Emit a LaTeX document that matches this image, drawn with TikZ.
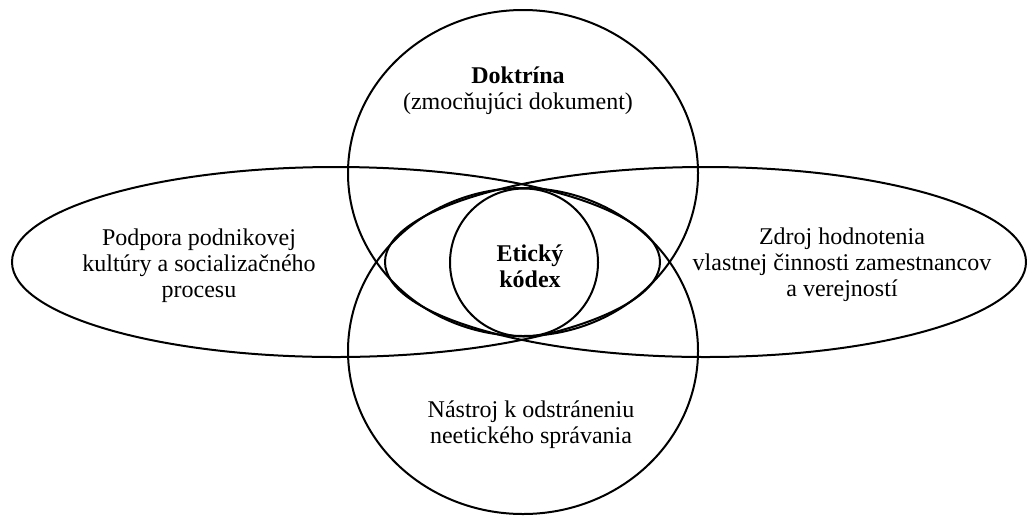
\documentclass[tikz,border=0pt]{standalone}
\usepackage{fontspec}
\setmainfont{Liberation Serif}

\begin{document}
\begin{tikzpicture}[x=0.5pt,y=-0.5pt,line width=1pt,
  areatext/.style={align=center,inner sep=0pt,font=\fontsize{12}{13}\selectfont}]
  \useasboundingbox (0,0) rectangle (1027,515);
  % the two long ellipses
  \draw (336,262) ellipse (324 and 95);
  \draw (705.5,262) ellipse (320.5 and 95);
  % upper and lower round areas
  \draw (523,173) ellipse (175 and 163);
  \draw (523,351) ellipse (175 and 163);
  % the code in the middle
  \draw (524,262.5) circle (74);
  \node[areatext] (doktrina) at (518,91) {\textbf{Doktrína}\\(zmocňujúci dokument)};
  \node[areatext] (podpora) at (199,266) {Podpora podnikovej\\kultúry a socializačného\\procesu};
  \node[areatext] (zdroj) at (842,265) {Zdroj hodnotenia\\vlastnej činnosti zamestnancov\\a verejností};
  \node[areatext] (nastroj) at (531,425) {Nástroj k odstráneniu\\neetického správania};
  \node[areatext,font=\fontsize{12}{13}\selectfont\bfseries] (kodex) at (530,266) {Etický\\kódex};
\end{tikzpicture}
\end{document}
